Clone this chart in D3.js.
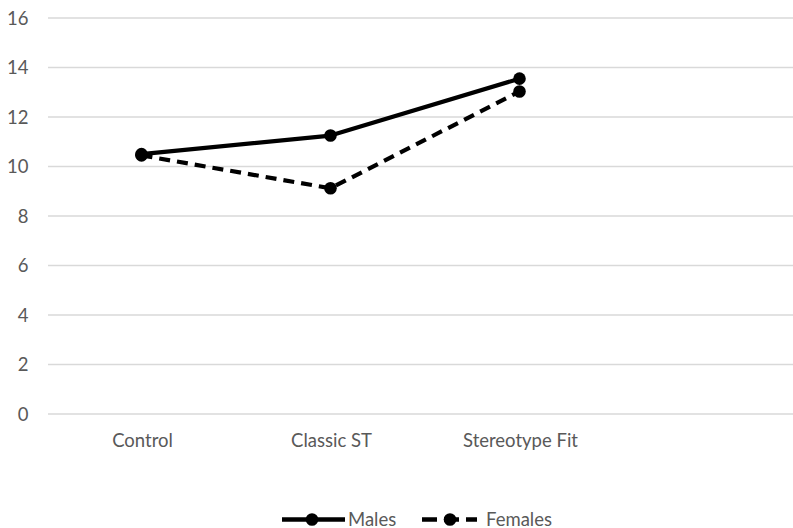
<!DOCTYPE html>
<html><head><meta charset="utf-8">
<script src="https://cdn.jsdelivr.net/npm/d3@7"></script>
<style>body{margin:0;background:#fff}svg{display:block}text{font-family:Lato,"Open Sans",sans-serif;fill:#595959}</style>
</head><body><svg id="c" width="793" height="528"></svg>
<script>
const categories = ["Control", "Classic ST", "Stereotype Fit", ""];
const males = [10.5, 11.25, 13.55];
const females = [10.45, 9.12, 13.03];
const yTicks = [0, 2, 4, 6, 8, 10, 12, 14, 16];

const svg = d3.select("#c");
const x = d3.scaleBand().domain(categories).range([47, 803]);
const y = d3.scaleLinear().domain([0, 16]).range([414, 18]);
const cx = c => x(c) + x.bandwidth() / 2;
const fs = 18.5;

svg.append("g").selectAll("line").data(yTicks).join("line")
  .attr("x1", 48).attr("x2", 793).attr("y1", d => y(d)).attr("y2", d => y(d))
  .attr("stroke", "#d9d9d9").attr("stroke-width", 1.3);

svg.append("g").selectAll("text").data(yTicks).join("text")
  .attr("x", 28.5).attr("y", d => y(d) + 6.5).attr("text-anchor", "end")
  .attr("font-size", fs).text(d => d);

svg.append("g").selectAll("text").data(categories.slice(0, 3)).join("text")
  .attr("x", d => cx(d) + 1).attr("y", 447).attr("text-anchor", "middle")
  .attr("font-size", fs).text(d => d);

const series = [
  {name: "Males", values: males, dash: null},
  {name: "Females", values: females, dash: "11,7"}
];
const line = d3.line().x((d, i) => cx(categories[i])).y(d => y(d));

series.forEach(s => {
  svg.append("path").datum(s.values).attr("d", line)
    .attr("fill", "none").attr("stroke", "#000").attr("stroke-width", 4.2)
    .attr("stroke-dasharray", s.dash).attr("stroke-linejoin", "round");
  svg.append("g").selectAll("circle").data(s.values).join("circle")
    .attr("cx", (d, i) => cx(categories[i])).attr("cy", d => y(d)).attr("r", 6.3)
    .attr("fill", "#000");
});

const legend = [{s: series[0], x0: 282, x1: 345, m: 312, t: 348},
                {s: series[1], x0: 422, x1: 477, m: 450, t: 486}];
legend.forEach(l => {
  const g = svg.append("g");
  g.append("line").attr("x1", l.x0).attr("x2", l.x1).attr("y1", 519.5).attr("y2", 519.5)
    .attr("stroke", "#000").attr("stroke-width", 4.5).attr("stroke-dasharray", l.s.dash ? "15,7" : null);
  g.append("circle").attr("cx", l.m).attr("cy", 519.5).attr("r", 6.3).attr("fill", "#000");
  g.append("text").attr("x", l.t).attr("y", 525.5).attr("font-size", fs).text(l.s.name);
});
</script></body></html>
